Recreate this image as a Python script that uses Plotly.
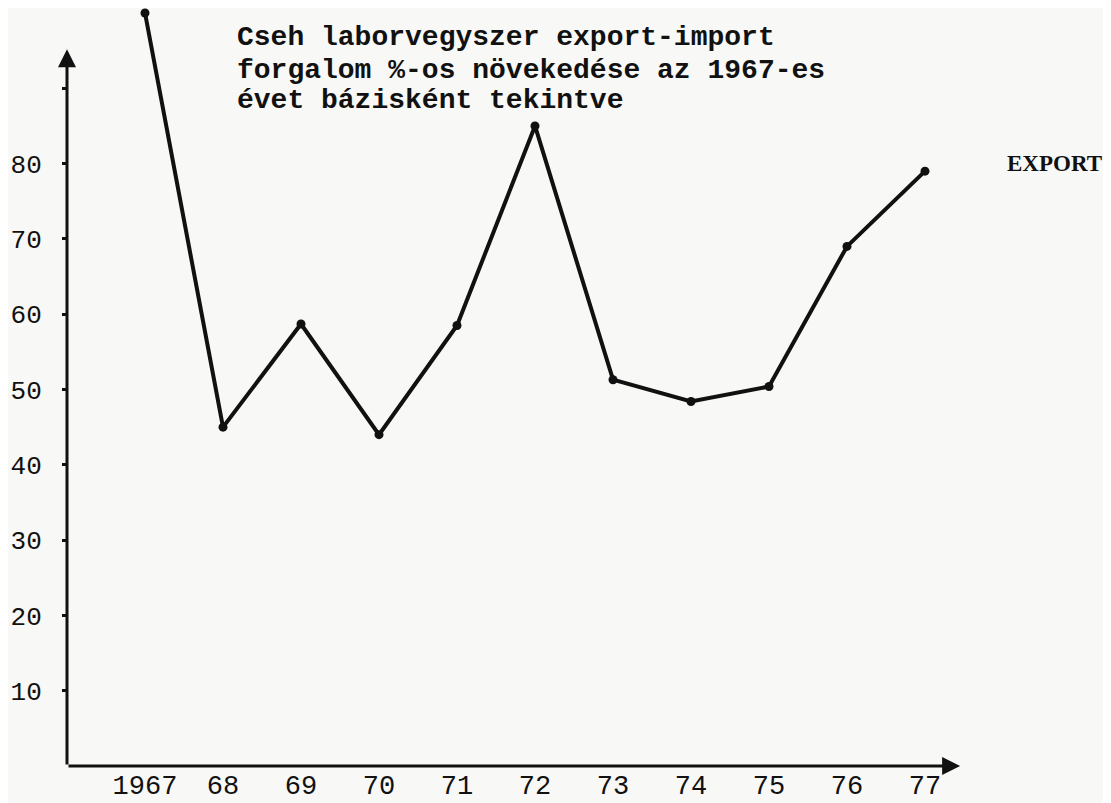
import plotly.graph_objects as go

years = [1967, 1968, 1969, 1970, 1971, 1972, 1973, 1974, 1975, 1976, 1977]
year_labels = ["1967", "68", "69", "70", "71", "72", "73", "74", "75", "76", "77"]
export_pct = [100, 45, 58.7, 44, 58.5, 85, 51.3, 48.4, 50.4, 69, 79]
y_ticks = [10, 20, 30, 40, 50, 60, 70, 80, 90]
y_tick_labels = ["10", "20", "30", "40", "50", "60", "70", "80", ""]
title_lines = [
    "Cseh laborvegyszer export-import",
    "forgalom %-os növekedése az 1967-es",
    "évet bázisként tekintve",
]
series_label = "EXPORT"

MONO = "Liberation Mono, Courier New, monospace"
INK = "#111111"

fig = go.Figure()
fig.add_trace(go.Scatter(
    x=years, y=export_pct, mode="lines+markers",
    line=dict(color=INK, width=4),
    marker=dict(color=INK, size=9),
    cliponaxis=False, showlegend=False,
))

# page body has an 8px margin; size the figure so it fits the 1111x803 window
OFF = 8
W, H = 1111 - OFF, 803 - OFF
L, R, T, B = 67 - OFF, 108, 13 - OFF, 37
pw, ph = W - L - R, H - T - B

def px_x(p):
    return (p - OFF - L) / pw

def px_y(p):
    return (H - B - (p - OFF)) / ph

annotations = []
# axis arrows
annotations.append(dict(x=1977.45, y=0, ax=1966, ay=0, xref="x", yref="y",
                        axref="x", ayref="y", text="", showarrow=True,
                        arrowhead=2, arrowsize=1.2, arrowwidth=3, arrowcolor=INK))
annotations.append(dict(x=1966, y=95.2, ax=1966, ay=0, xref="x", yref="y",
                        axref="x", ayref="y", text="", showarrow=True,
                        arrowhead=2, arrowsize=1.2, arrowwidth=3, arrowcolor=INK))
for line, py in zip(title_lines, [38, 70, 100]):
    annotations.append(dict(x=px_x(235), y=px_y(py), xref="paper", yref="paper",
                            xanchor="left", yanchor="middle", text=line, showarrow=False,
                            font=dict(family=MONO, size=28, color=INK, weight="bold")))
annotations.append(dict(x=px_x(1005), y=px_y(163), xref="paper", yref="paper",
                        xanchor="left", yanchor="middle", text=series_label, showarrow=False,
                        font=dict(family="Liberation Serif, serif", size=23, color=INK, weight="bold")))

fig.update_layout(
    width=W, height=H,
    margin=dict(l=L, r=R, t=T, b=B, autoexpand=False),
    paper_bgcolor="#f8f8f6", plot_bgcolor="rgba(0,0,0,0)",
    annotations=annotations,
    xaxis=dict(range=[1966, 1978], tickvals=years, ticktext=year_labels,
               showgrid=False, zeroline=False, showline=False, ticks="",
               automargin=False,
               tickfont=dict(family=MONO, size=27, color=INK)),
    yaxis=dict(range=[0, 100], tickvals=y_ticks, ticktext=y_tick_labels,
               showgrid=False, zeroline=False, showline=False,
               ticks="outside", ticklen=4, tickwidth=3, tickcolor=INK,
               ticklabelstandoff=15, automargin=False,
               tickfont=dict(family=MONO, size=26, color=INK)),
)

fig.write_html("out.html")
